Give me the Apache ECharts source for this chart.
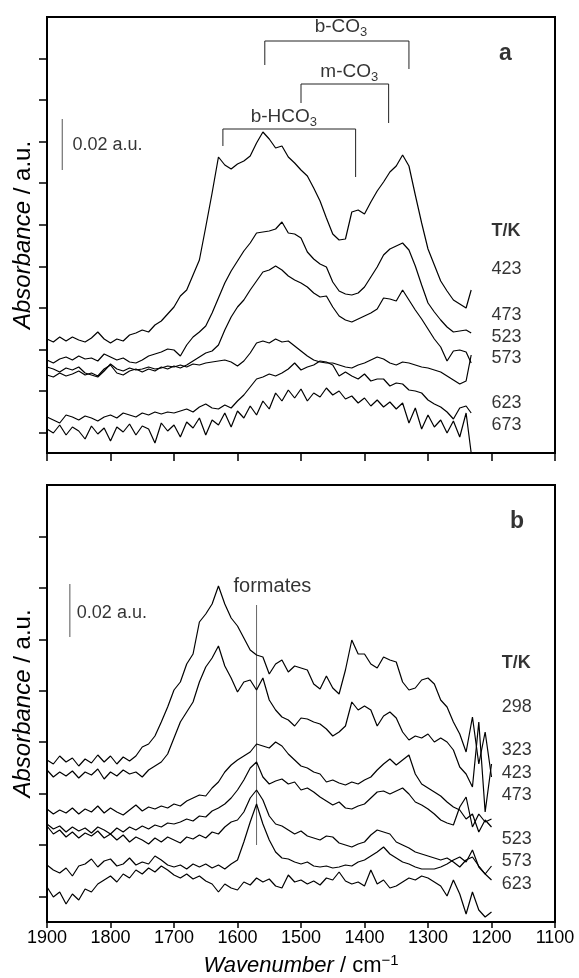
<!DOCTYPE html>
<html>
<head>
<meta charset="utf-8">
<script src="https://cdn.jsdelivr.net/npm/echarts@6.0.0/dist/echarts.min.js"></script>
<style>
  html, body { margin: 0; padding: 0; background: #fff; }
  #chart { width: 579px; height: 978px; }
</style>
</head>
<body>
<div id="chart"></div>
<script>
// wavenumber grids (cm-1)
const wnA = [1900, 1890, 1880, 1870, 1860, 1850, 1840, 1830, 1820, 1810,
  1800, 1790, 1780, 1770, 1760, 1750, 1740, 1730, 1720, 1710,
  1700, 1690, 1680, 1670, 1660, 1650, 1640, 1630, 1620, 1610,
  1600, 1590, 1580, 1570, 1560, 1550, 1540, 1530, 1520, 1510,
  1500, 1490, 1480, 1470, 1460, 1450, 1440, 1430, 1420, 1410,
  1400, 1390, 1380, 1370, 1360, 1350, 1340, 1330, 1320, 1310,
  1300, 1290, 1280, 1270, 1260, 1250, 1240, 1232];
const wnB = [1900, 1890, 1880, 1870, 1860, 1850, 1840, 1830, 1820, 1810,
  1800, 1790, 1780, 1770, 1760, 1750, 1740, 1730, 1720, 1710,
  1700, 1690, 1680, 1670, 1660, 1650, 1640, 1630, 1620, 1610,
  1600, 1590, 1580, 1570, 1560, 1550, 1540, 1530, 1520, 1510,
  1500, 1490, 1480, 1470, 1460, 1450, 1440, 1430, 1420, 1410,
  1400, 1390, 1380, 1370, 1360, 1350, 1340, 1330, 1320, 1310,
  1300, 1290, 1280, 1270, 1260, 1250, 1240, 1230, 1220, 1210, 1200];

// panel a: spectra with vertical offsets (arbitrary units)
const a423 = [114, 111, 116, 112, 116, 113, 111, 115, 121, 114,
  110, 114, 112, 118, 120, 123, 121, 128, 132, 139,
  146, 157, 163, 178, 193, 226, 260, 296, 288, 284,
  289, 292, 297, 310, 321, 314, 305, 307, 296, 290,
  283, 277, 265, 252, 235, 219, 213, 214, 241, 243,
  239, 251, 262, 271, 281, 287, 298, 287, 258, 230,
  204, 188, 172, 162, 153, 149, 145, 163];
const a473 = [93, 90, 94, 96, 93, 97, 94, 95, 92, 99,
  96, 93, 95, 91, 90, 93, 97, 99, 101, 104,
  103, 97, 108, 116, 121, 127, 140, 155, 170, 182,
  192, 202, 210, 220, 221, 222, 224, 231, 220, 219,
  215, 201, 194, 189, 186, 171, 162, 159, 158, 160,
  166, 176, 186, 198, 204, 207, 210, 203, 187, 168,
  150, 141, 133, 126, 121, 122, 123, 120];
const a523 = [78, 76, 80, 77, 79, 82, 78, 80, 77, 84,
  88, 80, 78, 82, 84, 81, 84, 82, 86, 84,
  87, 85, 88, 92, 96, 100, 102, 108, 123, 136,
  146, 153, 163, 172, 181, 183, 187, 183, 177, 173,
  170, 166, 160, 156, 157, 146, 137, 133, 131, 134,
  137, 140, 144, 155, 154, 152, 163, 153, 143, 134,
  124, 114, 106, 92, 102, 103, 101, 90];
const a573 = [86, 84, 81, 85, 83, 86, 80, 78, 76, 82,
  89, 84, 82, 85, 83, 84, 86, 84, 85, 87,
  86, 88, 86, 89, 88, 90, 91, 92, 93, 91,
  87, 92, 100, 110, 112, 110, 114, 111, 112, 107,
  102, 97, 93, 91, 90, 90, 88, 86, 85, 88,
  90, 93, 96, 94, 90, 88, 91, 90, 88, 86,
  85, 83, 81, 77, 73, 69, 72, 98];
const a623 = [36, 33, 30, 38, 36, 33, 37, 35, 32, 36,
  38, 35, 40, 38, 36, 40, 38, 41, 39, 41,
  40, 42, 44, 41, 46, 49, 45, 44, 48, 45,
  52, 58, 66, 74, 76, 79, 77, 80, 84, 90,
  83, 86, 88, 92, 91, 88, 77, 81, 77, 74,
  79, 72, 74, 74, 67, 70, 69, 63, 62, 60,
  53, 49, 46, 41, 34, 45, 47, 40];
const a673 = [24, 20, 28, 18, 26, 22, 14, 27, 19, 25,
  12, 26, 21, 29, 18, 27, 24, 10, 30, 22,
  28, 16, 31, 25, 35, 18, 33, 28, 40, 26,
  42, 35, 47, 38, 52, 44, 60, 52, 63, 55,
  64, 52, 60, 56, 65, 58, 62, 54, 57, 50,
  55, 47, 53, 46, 51, 44, 50, 30, 45, 24,
  38, 26, 33, 20, 32, 16, 40, 0];

// panel b
const b298 = [162, 158, 166, 160, 164, 156, 163, 159, 167, 160,
  166, 158, 165, 161, 166, 175, 178, 186, 200, 215,
  232, 240, 258, 268, 300, 308, 318, 336, 318, 304,
  296, 284, 272, 267, 265, 248, 258, 262, 250, 256,
  254, 252, 238, 233, 246, 234, 228, 252, 282, 268,
  268, 258, 254, 265, 262, 260, 240, 232, 234, 242,
  244, 238, 222, 215, 200, 188, 170, 205, 158, 190, 145];
const b323 = [152, 145, 150, 146, 151, 144, 150, 147, 153, 143,
  150, 146, 152, 148, 150, 145, 152, 156, 160, 168,
  184, 200, 210, 220, 240, 255, 264, 276, 256, 244,
  230, 240, 242, 232, 244, 222, 212, 205, 202, 196,
  204, 203, 200, 198, 193, 186, 190, 196, 220, 212,
  216, 212, 196, 206, 210, 204, 190, 182, 186, 184,
  188, 180, 184, 180, 172, 155, 148, 135, 200, 110, 158];
const b423 = [113, 108, 112, 109, 114, 108, 113, 110, 116, 109,
  114, 110, 107, 112, 117, 111, 115, 113, 116, 114,
  118, 116, 121, 124, 127, 126, 134, 140, 150, 157,
  162, 166, 170, 178, 176, 174, 180, 176, 168, 162,
  156, 154, 150, 148, 140, 142, 139, 137, 140, 138,
  142, 145, 152, 158, 163, 157, 162, 167, 148, 138,
  134, 130, 126, 120, 115, 112, 103, 108, 90, 102, 95];
const b473 = [98, 93, 96, 90, 95, 91, 94, 89, 95, 92,
  88, 94, 90, 95, 92, 96, 93, 97, 95, 99,
  98, 100, 103, 101, 106, 105, 111, 114, 118, 124,
  132, 142, 154, 160, 145, 138, 141, 143, 138, 140,
  132, 134, 130, 125, 121, 117, 120, 114, 113, 116,
  118, 124, 130, 131, 128, 131, 134, 128, 120, 117,
  113, 108, 102, 99, 97, 115, 125, 95, 108, 100, 103];
const b523 = [96, 88, 92, 85, 90, 84, 89, 86, 91, 84,
  88, 82, 87, 80, 85, 82, 78, 84, 80, 85,
  82, 79, 85, 83, 87, 84, 90, 88, 95, 100,
  102, 110, 124, 132, 122, 106, 98, 96, 92, 88,
  91, 86, 84, 82, 86, 85, 79, 77, 75, 78,
  80, 87, 92, 90, 88, 80, 77, 74, 70, 68,
  66, 64, 62, 64, 60, 55, 62, 65, 56, 48, 42];
const b573 = [57, 52, 49, 54, 46, 56, 58, 63, 55, 61,
  63, 56, 58, 64, 57, 60, 58, 66, 62, 57,
  55, 57, 53, 58, 55, 58, 54, 57, 53, 58,
  62, 80, 100, 118, 98, 82, 70, 64, 63, 60,
  58, 60, 56, 55, 56, 54, 55, 57, 56, 60,
  62, 66, 70, 75, 68, 64, 60, 58, 55, 53,
  53, 53, 55, 58, 62, 65, 60, 72, 55, 48, 56];
const b623 = [35, 25, 30, 18, 28, 22, 33, 30, 38, 42,
  46, 40, 48, 44, 52, 48, 54, 50, 56, 52,
  47, 44, 48, 43, 46, 41, 38, 30, 38, 34,
  32, 40, 37, 44, 40, 43, 36, 34, 47, 40,
  42, 38, 41, 37, 44, 42, 50, 41, 38, 40,
  36, 52, 38, 42, 34, 36, 40, 44, 42, 46,
  44, 40, 36, 26, 42, 28, 8, 30, 12, 5, 10];

// y tick positions (the axes carry no numbers)
const ticksA = [20.3, 61.9, 103.5, 145.1, 186.7, 228.3, 269.9, 311.5, 353.1, 394.7];
const ticksB = [25.7, 77.1, 128.5, 179.9, 231.3, 282.7, 334.1, 385.5];

// temperature labels [h position, text, bold]
const tempsA = [[222, 'T/K', true], [184, '423'], [138, '473'], [116, '523'], [95, '573'], [50, '623'], [28, '673']];
const tempsB = [[259, 'T/K', true], [215, '298'], [172, '323'], [149, '423'], [127, '473'], [83, '523'], [61, '573'], [38, '623']];

// band assignment brackets: [x1, x2, top, leftEnd, rightEnd]
const bracketsA = [
  [1557, 1330, 412, 388, 384],
  [1500, 1362, 369, 350, 330],
  [1623, 1414, 324, 307, 276]
];
const bracketTexts = [
  [1437, 426, 'b-CO{s|3}'],
  [1424, 381, 'm-CO{s|3}'],
  [1527, 336, 'b-HCO{s|3}']
];

const FONT = '"Liberation Sans", Arial, sans-serif';
const INK = '#000';

const chart = echarts.init(document.getElementById('chart'), null, { renderer: 'canvas' });

function curve(xs, ys, idx) {
  return {
    type: 'line',
    xAxisIndex: idx,
    yAxisIndex: idx,
    data: xs.map((x, i) => [x, ys[i]]),
    showSymbol: false,
    symbol: 'none',
    silent: true,
    lineStyle: { color: '#000', width: 1.2 },
    z: 3
  };
}

function segment(points, idx, color) {
  return {
    type: 'line',
    xAxisIndex: idx,
    yAxisIndex: idx,
    data: points,
    showSymbol: false,
    symbol: 'none',
    silent: true,
    lineStyle: { color: color, width: 1 },
    z: 2
  };
}

function texts(items, idx) {
  return {
    type: 'scatter',
    xAxisIndex: idx,
    yAxisIndex: idx,
    symbolSize: 0,
    silent: true,
    z: 5,
    data: items
  };
}

const richSub = {
  s: { fontSize: 13, fontFamily: FONT, color: INK, padding: [10, 0, 0, 0] }
};

const labelStyle = { show: true, fontFamily: FONT, fontSize: 18, color: INK };

function tempItems(list, x) {
  return list.map(([h, t, bold]) => ({
    value: [x, h],
    label: Object.assign({}, labelStyle, {
      position: 'right', distance: 0, formatter: t,
      fontWeight: bold ? 'bold' : 'normal'
    })
  }));
}

const series = [];
[a423, a473, a523, a573, a623, a673].forEach(s => series.push(curve(wnA, s, 0)));
[b298, b323, b423, b473, b523, b573, b623].forEach(s => series.push(curve(wnB, s, 1)));

// brackets
bracketsA.forEach(([x1, x2, top, l, r]) => {
  series.push(segment([[x1, l], [x1, top], [x2, top], [x2, r]], 0, '#222'));
});
// scale bars
series.push(segment([[1876, 283], [1876, 334]], 0, '#555'));
series.push(segment([[1864, 285], [1864, 338]], 1, '#555'));
// formate marker
series.push(segment([[1570, 77], [1570, 317]], 1, '#666'));

const textA = bracketTexts.map(([x, h, t]) => ({
  value: [x, h],
  label: Object.assign({}, labelStyle, { position: 'inside', formatter: t, fontSize: 19, rich: richSub })
}));
textA.push({ value: [1860, 308], label: Object.assign({}, labelStyle, { position: 'right', distance: 0, formatter: '0.02 a.u.' }) });
textA.push({ value: [1178, 399], label: Object.assign({}, labelStyle, { position: 'inside', formatter: 'a', fontWeight: 'bold', fontSize: 23 }) });
tempItems(tempsA, 1200).forEach(d => textA.push(d));

const textB = [];
textB.push({ value: [1545, 336], label: Object.assign({}, labelStyle, { position: 'inside', formatter: 'formates', fontSize: 20 }) });
textB.push({ value: [1853, 309], label: Object.assign({}, labelStyle, { position: 'right', distance: 0, formatter: '0.02 a.u.' }) });
textB.push({ value: [1160, 400], label: Object.assign({}, labelStyle, { position: 'inside', formatter: 'b', fontWeight: 'bold', fontSize: 23 }) });
tempItems(tempsB, 1184).forEach(d => textB.push(d));

series.push(texts(textA, 0));
series.push(texts(textB, 1));

function xAxisFor(idx, withLabels) {
  const ax = {
    type: 'value',
    gridIndex: idx,
    min: 1100,
    max: 1900,
    interval: 100,
    inverse: true,
    splitLine: { show: false },
    axisLine: { show: true, onZero: false, lineStyle: { color: '#000', width: 2 } },
    axisTick: { show: true, inside: false, length: idx === 0 ? 8 : 6, lineStyle: { color: '#000', width: 1.5 } },
    axisLabel: { show: withLabels, fontFamily: FONT, fontSize: 18, color: INK, margin: 7, formatter: v => String(v) }
  };
  if (withLabels) {
    ax.name = '{i|Wavenumber} / cm{p|\u22121}';
    ax.nameLocation = 'middle';
    ax.nameGap = 31;
    ax.nameTextStyle = {
      fontFamily: FONT, fontSize: 22, color: INK,
      rich: {
        i: { fontFamily: FONT, fontSize: 22, fontStyle: 'italic', color: INK },
        p: { fontFamily: FONT, fontSize: 15, color: INK, padding: [0, 0, 10, 0] }
      }
    };
  }
  return ax;
}

function yAxisFor(idx, max, ticks) {
  return {
    type: 'value',
    gridIndex: idx,
    min: 0,
    max: max,
    splitLine: { show: false },
    axisLine: { show: true, onZero: false, lineStyle: { color: '#000', width: 2 } },
    axisTick: { show: true, inside: false, length: 8, customValues: ticks, lineStyle: { color: '#000', width: 1.5 } },
    axisLabel: { show: false },
    name: '{i|Absorbance} / a.u.',
    nameLocation: 'middle',
    nameGap: 12,
    nameTextStyle: {
      fontFamily: FONT, fontSize: 24, color: INK,
      rich: { i: { fontFamily: FONT, fontSize: 24, fontStyle: 'italic', color: INK } }
    }
  };
}

const option = {
  backgroundColor: '#fff',
  animation: false,
  grid: [
    { left: 47, top: 17, width: 508, height: 436, show: true, borderColor: '#000', borderWidth: 2, backgroundColor: 'transparent' },
    { left: 47, top: 485, width: 508, height: 437, show: true, borderColor: '#000', borderWidth: 2, backgroundColor: 'transparent' }
  ],
  xAxis: [xAxisFor(0, false), xAxisFor(1, true)],
  yAxis: [yAxisFor(0, 436, ticksA), yAxisFor(1, 437, ticksB)],
  series: series
};

chart.setOption(option);
</script>
</body>
</html>
